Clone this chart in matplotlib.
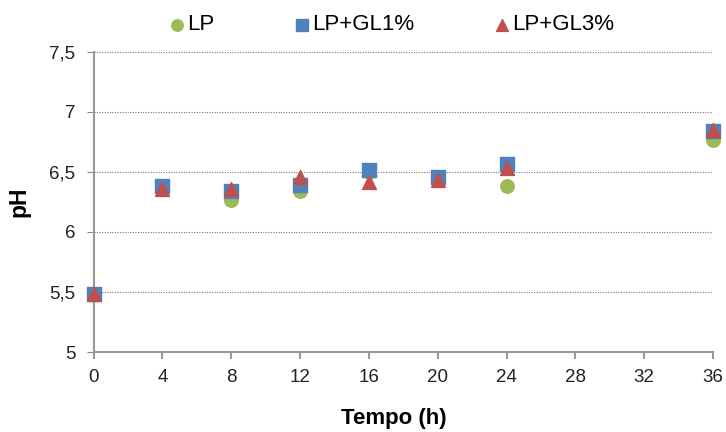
import matplotlib.pyplot as plt
from matplotlib.ticker import FuncFormatter

plt.rcParams['font.family'] = ['Liberation Sans', 'DejaVu Sans']

tempo = [0, 4, 8, 12, 16, 20, 24, 36]
ph_lp = [5.48, 6.37, 6.27, 6.34, 6.50, 6.45, 6.38, 6.77]
ph_gl1 = [5.48, 6.38, 6.34, 6.39, 6.52, 6.46, 6.57, 6.84]
ph_gl3 = [5.48, 6.36, 6.36, 6.46, 6.42, 6.43, 6.53, 6.85]

verde = '#9BBB59'
azul = '#4F81BD'
vermelho = '#C0504D'

fig = plt.figure(figsize=(7.26, 4.32), dpi=100)
ax = fig.add_axes([0.129, 0.185, 0.853, 0.695])

ax.scatter(tempo, ph_lp, marker='o', s=95, color=verde, label='LP', zorder=3, clip_on=False)
ax.scatter(tempo, ph_gl1, marker='s', s=95, color=azul, label='LP+GL1%', zorder=4, clip_on=False)
ax.scatter(tempo, ph_gl3, marker='^', s=100, color=vermelho, label='LP+GL3%', zorder=5, clip_on=False)

ax.set_xlim(0, 36)
ax.set_ylim(5, 7.5)
ax.set_xticks(range(0, 37, 4))
ax.set_yticks([5, 5.5, 6, 6.5, 7, 7.5])
ax.yaxis.set_major_formatter(FuncFormatter(lambda v, p: ('%g' % v).replace('.', ',')))

ax.grid(axis='y', linestyle=(0, (1, 1.3)), color='#777777', linewidth=0.8)
for s in ['top', 'right']:
    ax.spines[s].set_visible(False)
for s in ['left', 'bottom']:
    ax.spines[s].set_color('#999999')
    ax.spines[s].set_linewidth(1.5)
ax.tick_params(axis='y', length=5, color='#888888', width=0.8, labelsize=13.5, pad=8)
ax.tick_params(axis='x', length=5, color='#999999', width=1.5, labelsize=13.5, pad=7)
for lbl in ax.get_xticklabels() + ax.get_yticklabels():
    lbl.set_color('#222222')

ax.set_xlabel('Tempo (h)', fontsize=16, fontweight='bold')
ax.xaxis.set_label_coords(0.485, -0.185)
ax.set_ylabel('pH', fontsize=16.5, fontweight='bold', labelpad=14)

fig.legend(loc='center', bbox_to_anchor=(0.54, 1 - 25 / 432), ncol=3, frameon=False,
           fontsize=16, handlelength=0.7, handletextpad=0.1, columnspacing=3.6,
           markerscale=0.85)

plt.savefig('out.png', dpi=100)
